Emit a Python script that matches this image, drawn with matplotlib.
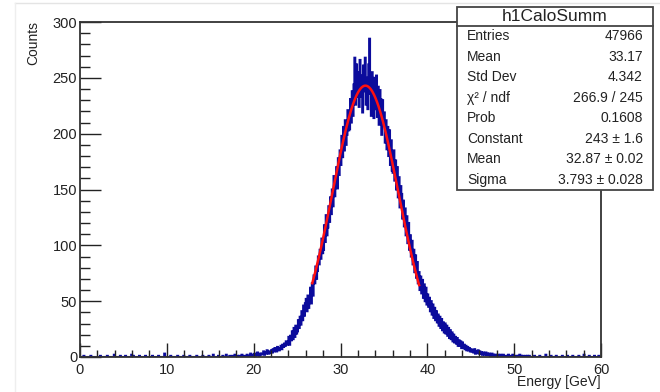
"""
h1CaloSumm - calorimeter energy sum with gaussian fit (ROOT style)
"""

import numpy as np
import matplotlib.pyplot as plt
from matplotlib.patches import Rectangle
from matplotlib.lines import Line2D
from matplotlib.ticker import MultipleLocator

plt.rcParams['font.family'] = ['Liberation Sans', 'DejaVu Sans']

# histogram: 0.1 GeV bins from 0 to 60
bin_width = 0.1
x_min, x_max = 0.0, 60.0

# bin contents from 18.0 GeV to 52.0 GeV (one row per GeV)
main_start = 18.0
main_counts = [
    0, 1, 0, 1, 0, 0, 2, 0, 1, 1,                      # 18
    1, 0, 2, 1, 1, 0, 3, 1, 2, 1,                      # 19
    2, 3, 1, 2, 4, 2, 1, 3, 2, 3,                      # 20
    3, 5, 2, 4, 3, 6, 4, 3, 5, 4,                      # 21
    6, 4, 7, 5, 8, 6, 5, 9, 7, 6,                      # 22
    8, 10, 7, 11, 9, 12, 10, 14, 11, 13,               # 23
    18, 11, 19, 15, 23, 16, 26, 18, 28, 21,            # 24
    23, 33, 26, 36, 29, 41, 33, 46, 37, 48,            # 25
    52, 41, 55, 44, 50, 62, 48, 66, 55, 73,            # 26
    66, 81, 70, 77, 90, 83, 96, 88, 106, 93,           # 27
    96, 118, 103, 127, 109, 116, 135, 121, 143, 128,   # 28
    150, 135, 162, 144, 158, 170, 151, 178, 163, 185,  # 29
    172, 198, 179, 206, 185, 212, 190, 199, 221, 203,  # 30
    204, 231, 210, 238, 216, 244, 268, 226, 262, 233,  # 31
    255, 224, 266, 233, 252, 219, 261, 238, 268, 226,  # 32
    250, 222, 262, 285, 236, 216, 255, 247, 214, 250,  # 33
    222, 252, 215, 242, 208, 239, 231, 199, 230, 212,  # 34
    219, 192, 212, 186, 206, 180, 203, 172, 194, 167,  # 35
    165, 185, 158, 176, 150, 170, 143, 161, 134, 153,  # 36
    146, 124, 140, 117, 133, 109, 126, 102, 120, 96,   # 37
    109, 90, 104, 83, 96, 76, 91, 71, 85, 66,          # 38
    76, 60, 72, 57, 69, 53, 65, 50, 62, 47,            # 39
    56, 45, 53, 41, 50, 38, 47, 35, 44, 33,            # 40
    41, 31, 38, 28, 36, 26, 34, 24, 31, 22,            # 41
    30, 21, 28, 19, 26, 17, 24, 16, 22, 14,            # 42
    20, 13, 18, 12, 17, 10, 15, 10, 14, 8,             # 43
    13, 8, 11, 7, 10, 6, 9, 6, 8, 5,                   # 44
    7, 5, 6, 4, 7, 3, 5, 4, 6, 3,                      # 45
    5, 3, 4, 2, 4, 3, 2, 4, 2, 3,                      # 46
    2, 3, 1, 2, 3, 1, 2, 1, 2, 1,                      # 47
    1, 2, 1, 0, 2, 1, 1, 2, 0, 1,                      # 48
    1, 0, 1, 2, 0, 1, 1, 0, 2, 1,                      # 49
    0, 1, 1, 0, 1, 0, 2, 0, 1, 0,                      # 50
    1, 0, 0, 1, 0, 1, 0, 1, 0, 0,                      # 51
]

# isolated entries in the far tails (bin low edge, content)
tail_edges = [0.4, 1.2, 2.3, 3.1, 3.9, 4.6, 5.2, 5.9, 6.1, 6.8, 7.5, 8.3,
              9.0, 9.7, 10.4, 11.2, 11.9, 12.6, 13.4, 14.1, 14.8, 15.3,
              15.9, 16.4, 16.8, 17.2, 17.5, 17.8,
              52.3, 52.9, 53.6, 54.2, 54.8, 55.5, 56.1, 56.7, 57.4, 58.0,
              58.6, 59.2, 59.7]
tail_counts = [1, 1, 1, 1, 2, 1, 1, 2, 1, 1, 1, 1,
               1, 3, 1, 1, 1, 1, 1, 1, 1, 2,
               1, 1, 2, 1, 1, 2,
               1, 1, 2, 1, 1, 1, 1, 1, 1, 2,
               1, 1, 1]

# stats box
stats_title = 'h1CaloSumm'
stats_names = ['Entries', 'Mean', 'Std Dev', 'χ² / ndf', 'Prob',
               'Constant', 'Mean', 'Sigma']
stats_values = ['47966', '33.17', '4.342', '266.9 / 245', '0.1608',
                '243 ± 1.6', '32.87 ± 0.02', '3.793 ± 0.028']

# gaussian fit result and range
fit_const, fit_mean, fit_sigma = 243.0, 32.87, 3.793
fit_lo, fit_hi = 26.75, 39.05

W, H = 660, 392
fig = plt.figure(figsize=(W / 100, H / 100), dpi=100)
ax = fig.add_axes([80 / W, 1 - 357 / H, 521 / W, 335 / H])

nbins = int(round((x_max - x_min) / bin_width))
edges = np.linspace(x_min, x_max, nbins + 1)
counts = np.zeros(nbins)
i0 = int(round((main_start - x_min) / bin_width))
counts[i0:i0 + len(main_counts)] = main_counts
for e, n in zip(tail_edges, tail_counts):
    counts[int(round((e - x_min) / bin_width))] = n

ax.stairs(counts, edges, color='#0b0b9c', linewidth=1.5)

xf = np.linspace(fit_lo, fit_hi, 200)
yf = fit_const * np.exp(-0.5 * ((xf - fit_mean) / fit_sigma) ** 2)
ax.plot(xf, yf, color='#ff1010', linewidth=1.8)

ax.set_xlim(x_min, x_max)
ax.set_ylim(0, 300)
ax.xaxis.set_major_locator(MultipleLocator(10))
ax.xaxis.set_minor_locator(MultipleLocator(2))
ax.yaxis.set_major_locator(MultipleLocator(50))
ax.yaxis.set_minor_locator(MultipleLocator(10))
ax.tick_params(axis='both', which='both', direction='in', colors='#222222',
               labelsize=10.5, width=1.0, top=False, right=False)
ax.tick_params(axis='x', which='major', length=10, pad=4)
ax.tick_params(axis='x', which='minor', length=5)
ax.tick_params(axis='y', which='major', length=15, pad=2)
ax.tick_params(axis='y', which='minor', length=7)
for s in ax.spines.values():
    s.set_color('#333333')
    s.set_linewidth(1.3)

fig.text(33 / W, 1 - 21 / H, 'Counts', rotation=90, ha='center', va='top',
         fontsize=10, color='#222222')
fig.text(601 / W, 1 - 382 / H, 'Energy [GeV]', ha='right', va='center',
         fontsize=10, color='#222222')

# faint page border of the screenshot
fig.add_artist(Line2D([15 / W, 1], [1 - 3 / H, 1 - 3 / H], color='#e4e4e4',
                      linewidth=1))
fig.add_artist(Line2D([15 / W, 15 / W], [0, 1 - 3 / H], color='#eeeeee',
                      linewidth=1))

# stats box
bx0, bx1, by0, by1 = 457, 653, 7, 190
fig.add_artist(Rectangle((bx0 / W, 1 - by1 / H), (bx1 - bx0) / W,
                         (by1 - by0) / H, facecolor='white',
                         edgecolor='#444444', linewidth=1.3, zorder=5))
head = 26
fig.add_artist(Line2D([bx0 / W, bx1 / W], [1 - head / H, 1 - head / H],
                      color='#444444', linewidth=1.3, zorder=6))
fig.text((bx0 + bx1) / 2 / W, 1 - (by0 + head) / 2 / H, stats_title,
         ha='center', va='center', fontsize=12.5, color='#222222', zorder=7)
row_h = (by1 - head) / len(stats_names)
for k, (name, val) in enumerate(zip(stats_names, stats_values)):
    yc = 1 - (head + row_h * (k + 0.5)) / H
    fig.text(467 / W, yc, name, ha='left', va='center', fontsize=10,
             color='#222222', zorder=7)
    fig.text(643 / W, yc, val, ha='right', va='center', fontsize=10,
             color='#222222', zorder=7)

fig.savefig('out.png', dpi=100)
